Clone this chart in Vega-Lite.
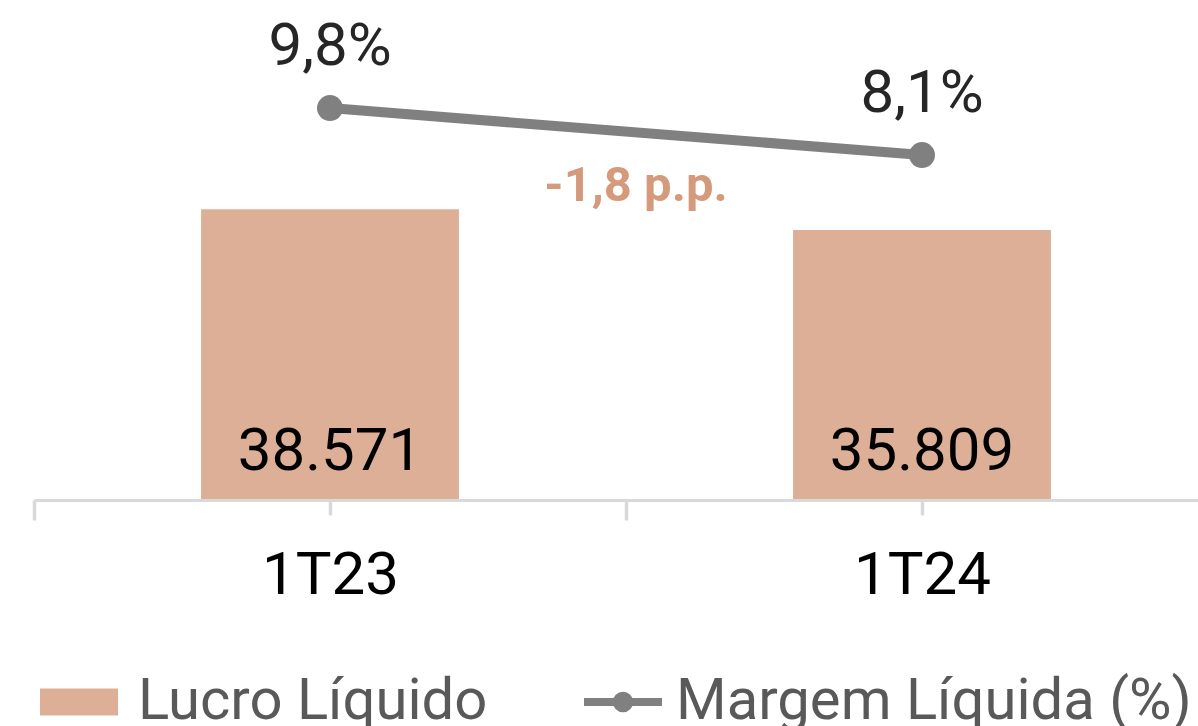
{
  "$schema": "https://vega.github.io/schema/vega-lite/v6.json",
  "width": 1164,
  "height": 499,
  "autosize": "none",
  "padding": {"left": 34, "top": 0, "right": 0, "bottom": 227},
  "config": {
    "view": {"stroke": null},
    "font": "Roboto",
    "locale": {"number": {"decimal": ",", "thousands": ".", "grouping": [3], "currency": ["R$", ""]}}
  },
  "datasets": {
    "bars": [
      {"periodo": "1T23", "lucro": 38571},
      {"periodo": "1T24", "lucro": 35809}
    ],
    "margem": [
      {"periodo": "1T23", "margem": 0.098},
      {"periodo": "1T24", "margem": 0.081}
    ]
  },
  "layer": [
    {
      "data": {"name": "bars"},
      "layer": [
        {
          "mark": {"type": "bar", "width": {"band": 0.4356}},
          "encoding": {
            "x": {
              "field": "periodo", "type": "nominal", "sort": null,
              "scale": {"type": "band", "paddingInner": 0, "paddingOuter": 0, "range": [0, 1184]},
              "axis": {
                "title": null, "orient": "bottom", "labelAngle": 0, "labelFontSize": 60,
                "labelColor": "#000000", "labelFont": "Roboto", "labelPadding": 26,
                "domainColor": "#D9D9D9", "domainWidth": 3, "tickColor": "#D9D9D9",
                "tickWidth": 3.5, "tickSize": 20, "tickBand": "extent", "offset": 1
              }
            },
            "y": {"field": "lucro", "type": "quantitative", "scale": {"domain": [0, 66450], "nice": false}, "axis": null},
            "color": {
              "datum": "Lucro Líquido", "type": "nominal",
              "scale": {"domain": ["Lucro Líquido", "Margem Líquida (%)"], "range": ["#DCAF96", "#808080"]},
              "legend": {
                "orient": "bottom", "direction": "horizontal", "title": null,
                "symbolSize": 6084, "labelFontSize": 58, "labelColor": "#595959",
                "labelFont": "Roboto", "labelOffset": 30, "columnPadding": 80,
                "labelLimit": 0,
                "offset": 52, "padding": 16,
                "symbolType": "M-1,-0.346H1V0.346H-1Z",
                "encode": {
                  "symbols": {
                    "update": {
                      "shape": {"signal": "datum.value === 'Lucro Líquido' ? 'M-1,-0.346H1V0.346H-1Z' : 'M-1,0H1M0.16,0A0.16,0.16,0,1,1,-0.16,0A0.16,0.16,0,1,1,0.16,0'"},
                      "fill": {"signal": "datum.value === 'Lucro Líquido' ? '#DCAF96' : '#808080'"},
                      "stroke": {"signal": "datum.value === 'Lucro Líquido' ? 'transparent' : '#808080'"},
                      "strokeWidth": {"signal": "datum.value === 'Lucro Líquido' ? 0 : 8"},
                      "opacity": {"value": 1},
                      "fillOpacity": {"value": 1}
                    }
                  },
                  "labels": {
                    "update": {
                      "dx": {"signal": "datum.value === 'Lucro Líquido' ? 0 : -6"}
                    }
                  }
                }
              }
            }
          }
        },
        {
          "mark": {"type": "text", "dy": -29, "baseline": "alphabetic", "align": "center", "fontSize": 60, "color": "#000000", "font": "Roboto"},
          "encoding": {
            "x": {"field": "periodo", "type": "nominal", "sort": null},
            "y": {"datum": 0, "type": "quantitative"},
            "text": {"field": "lucro", "type": "quantitative", "format": ",d"}
          }
        }
      ]
    },
    {
      "data": {"name": "margem"},
      "layer": [
        {
          "mark": {"type": "line", "strokeWidth": 10},
          "encoding": {
            "x": {
              "field": "periodo", "type": "nominal", "sort": null,
              "scale": {"type": "band", "paddingInner": 0, "paddingOuter": 0, "range": [0, 1184]},
              "axis": {
                "title": null, "orient": "bottom", "labels": false, "domain": false,
                "tickColor": "#D9D9D9", "tickWidth": 3.5, "tickSize": 15, "offset": 1
              }
            },
            "y": {"field": "margem", "type": "quantitative", "scale": {"domain": [-0.0434, 0.1371], "nice": false}, "axis": null},
            "color": {"datum": "Margem Líquida (%)", "type": "nominal", "legend": null}
          }
        },
        {
          "mark": {"type": "point", "filled": true, "size": 676, "opacity": 1},
          "encoding": {
            "x": {"field": "periodo", "type": "nominal", "sort": null},
            "y": {"field": "margem", "type": "quantitative"},
            "color": {"datum": "Margem Líquida (%)", "type": "nominal", "legend": null}
          }
        },
        {
          "mark": {"type": "text", "dy": -43, "baseline": "alphabetic", "align": "center", "fontSize": 60, "color": "#262626", "font": "Roboto"},
          "encoding": {
            "x": {"field": "periodo", "type": "nominal", "sort": null},
            "y": {"field": "margem", "type": "quantitative"},
            "text": {"field": "margem", "type": "quantitative", "format": ".1%"}
          }
        },
        {
          "data": {"values": [{"nota": "-1,8 p.p."}]},
          "mark": {"type": "text", "dx": 10, "baseline": "alphabetic", "align": "center", "fontSize": 49, "fontWeight": "bold", "color": "#D59A7B", "font": "Roboto"},
          "encoding": {
            "x": {"datum": "1T23", "type": "nominal", "bandPosition": 1},
            "y": {"datum": 0.0644, "type": "quantitative"},
            "text": {"field": "nota", "type": "nominal"}
          }
        }
      ]
    }
  ],
  "resolve": {"scale": {"y": "independent", "x": "independent"}, "axis": {"x": "independent"}}
}
